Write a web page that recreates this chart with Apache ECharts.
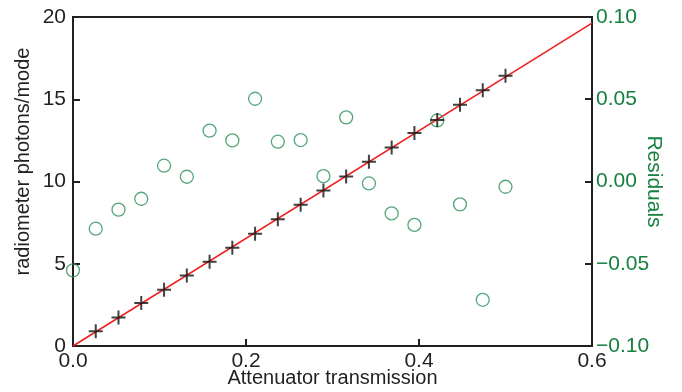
<!DOCTYPE html>
<html>
<head>
<meta charset="utf-8">
<script src="https://cdn.jsdelivr.net/npm/echarts@6/dist/echarts.min.js"></script>
<style>
  html, body { margin: 0; padding: 0; background: #fff; }
  #chart { width: 682px; height: 392px; }
</style>
</head>
<body>
<div id="chart"></div>
<script>
// attenuator transmission for each measurement
const transmission = [0, 0.0263, 0.0526, 0.0789, 0.1053, 0.1316, 0.1579, 0.1842, 0.2105, 0.2368,
  0.2632, 0.2895, 0.3158, 0.3421, 0.3684, 0.3947, 0.4211, 0.4474, 0.4737, 0.5]
// radiometer photons/mode (crosses, starting at the first non-zero transmission)
const photons = [0.89, 1.74, 2.61, 3.42, 4.29, 5.12, 5.98, 6.83, 7.70, 8.59,
  9.46, 10.31, 11.20, 12.07, 12.95, 13.74, 14.67, 15.54, 16.43]
// fit residuals (circles)
const residuals = [-0.054, -0.0287, -0.0171, -0.0105, 0.0096, 0.0029, 0.0309, 0.025, 0.0503, 0.0242,
  0.0252, 0.0033, 0.039, -0.0012, -0.0194, -0.0264, 0.0371, -0.0139, -0.0719, -0.0032]
// linear fit
const fitX = [0, 0.6]
const fitY = [0, 19.63]

const INK = '#231f20'
const GREEN = '#16803f'
const FONT = 'Liberation Sans, Arial, sans-serif'

const chart = echarts.init(document.getElementById('chart'))
const cross = 'path://M6,0h2v14h-2z M0,6h14v2h-14z'

chart.setOption({
  animation: false,
  grid: {
    left: 73, right: 90, top: 17, bottom: 46, outerBoundsMode: 'none',
    show: true, borderColor: INK, borderWidth: 2,
  },
  xAxis: {
    type: 'value', min: 0, max: 0.6, interval: 0.2,
    name: 'Attenuator transmission', nameLocation: 'middle', nameGap: 22, nameMoveOverlap: false,
    nameTextStyle: { color: INK, fontSize: 20, fontFamily: FONT },
    axisLine: { lineStyle: { color: INK, width: 2 } },
    axisTick: { inside: true, length: 7, lineStyle: { color: INK, width: 2 } },
    axisLabel: { color: INK, fontSize: 21, fontFamily: FONT, margin: 5, formatter: v => v.toFixed(1) },
    splitLine: { show: false },
  },
  yAxis: [{
    type: 'value', min: 0, max: 20, interval: 5,
    name: 'radiometer photons/mode', nameLocation: 'middle', nameGap: 40, nameRotate: 90, nameMoveOverlap: false,
    nameTextStyle: { color: INK, fontSize: 20, fontFamily: FONT, padding: [0, 0, 0, 40] },
    axisLine: { lineStyle: { color: INK, width: 2 } },
    axisTick: { inside: true, length: 7, lineStyle: { color: INK, width: 2 } },
    axisLabel: { color: INK, fontSize: 21, fontFamily: FONT, margin: 7 },
    splitLine: { show: false },
  }, {
    type: 'value', position: 'right', min: -0.1, max: 0.1, interval: 0.05,
    name: 'Residuals', nameLocation: 'middle', nameGap: 51, nameRotate: -90, nameMoveOverlap: false,
    nameTextStyle: { color: GREEN, fontSize: 21, fontFamily: FONT },
    axisLine: { lineStyle: { color: INK, width: 2 } },
    axisTick: { inside: true, length: 7, lineStyle: { color: INK, width: 2 } },
    axisLabel: { color: GREEN, fontSize: 21, fontFamily: FONT, margin: 4,
      formatter: v => (v < 0 ? '\u2212' : '') + Math.abs(v).toFixed(2) },
    splitLine: { show: false },
  }],
  series: [{
    type: 'line', data: fitX.map((x, i) => [x, fitY[i]]),
    showSymbol: false, lineStyle: { color: '#ee2020', width: 1.6 }, z: 2,
  }, {
    type: 'scatter', yAxisIndex: 1, data: transmission.map((x, i) => [x, residuals[i]]),
    symbol: 'circle', symbolSize: 13,
    itemStyle: { color: 'rgba(0,0,0,0)', borderColor: '#2a9058', borderWidth: 1.3 }, z: 3,
  }, {
    type: 'scatter', data: photons.map((y, i) => [transmission[i + 1], y]),
    symbol: cross, symbolSize: 14, itemStyle: { color: '#111' }, z: 4,
  }],
})
</script>
</body>
</html>
